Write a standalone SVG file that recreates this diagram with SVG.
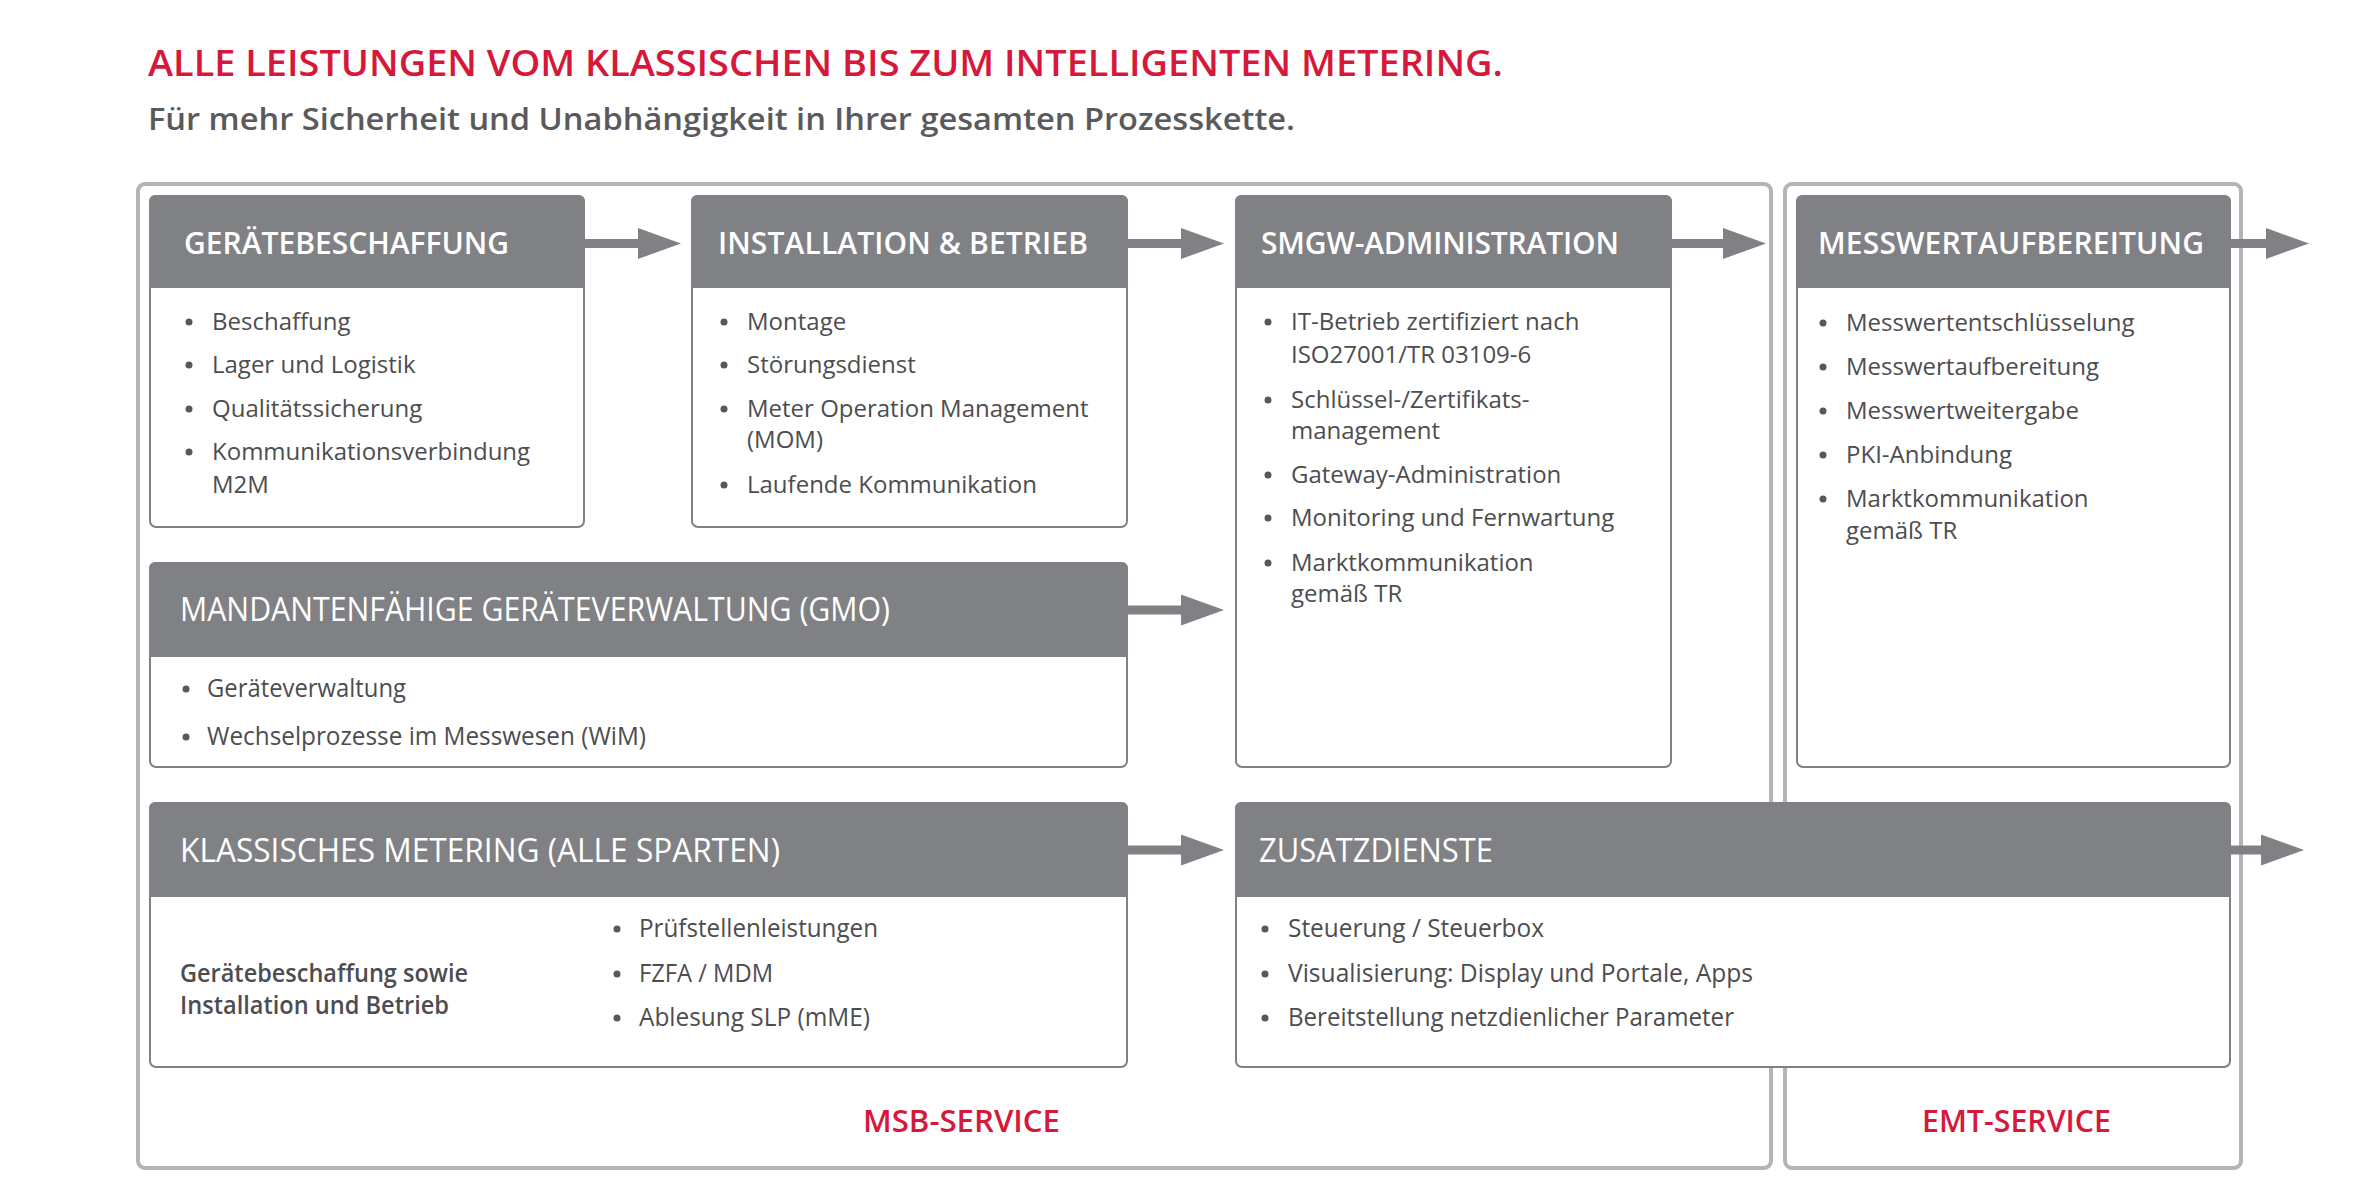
<svg xmlns="http://www.w3.org/2000/svg" width="2363" height="1181" viewBox="0 0 2363 1181">
<defs>
<style>
.frame{fill:none;stroke:#b4b4b6;stroke-width:4}
.body{fill:#fff;stroke:#808184;stroke-width:2}
.head{fill:#808184}
.ht{font-family:"Open Sans","Liberation Sans",sans-serif;font-weight:600;font-size:30px;fill:#fff}
.htc{font-family:"Open Sans","Liberation Sans",sans-serif;font-weight:500;font-size:33px;fill:#fff}
.t{font-family:"Open Sans","Liberation Sans",sans-serif;font-size:24px;fill:#4d4d4f}
.tc{font-family:"Open Sans","Liberation Sans",sans-serif;font-size:25px;fill:#4d4d4f}
.tb{font-family:"Open Sans","Liberation Sans",sans-serif;font-weight:600;font-size:25px;fill:#4d4d4f}
.dot{fill:#58585a}
.svc{font-family:"Open Sans","Liberation Sans",sans-serif;font-weight:600;font-size:30px;fill:#d6183b}
.conn{stroke:#808184;stroke-width:9;fill:none}
</style>
<marker id="ah" markerUnits="userSpaceOnUse" markerWidth="44" markerHeight="32" refX="0" refY="15.5" orient="auto">
<path d="M0,0 L43,15.5 L0,31 Z" fill="#808184"/>
</marker>
</defs>
<rect width="2363" height="1181" fill="#fff"/>

<g id="title">
<text x="148" y="76" font-family="Open Sans, Liberation Sans, sans-serif" font-weight="600" font-size="36" fill="#d6183b" textLength="1355" lengthAdjust="spacingAndGlyphs">ALLE LEISTUNGEN VOM KLASSISCHEN BIS ZUM INTELLIGENTEN METERING.</text>
<text x="148" y="130" font-family="Open Sans, Liberation Sans, sans-serif" font-weight="600" font-size="31" fill="#5a5a5c" textLength="1147" lengthAdjust="spacingAndGlyphs">Für mehr Sicherheit und Unabhängigkeit in Ihrer gesamten Prozesskette.</text>
</g>

<g id="msb-service">
<rect class="frame" x="138" y="184" width="1633" height="984" rx="7"/>
<text class="svc" x="863" y="1132" textLength="197" lengthAdjust="spacingAndGlyphs">MSB-SERVICE</text>
</g>
<g id="emt-service">
<rect class="frame" x="1785" y="184" width="456" height="984" rx="7"/>
<text class="svc" x="1922" y="1132" textLength="189" lengthAdjust="spacingAndGlyphs">EMT-SERVICE</text>
</g>

<g id="connectors">
<line class="conn" x1="584" y1="243.5" x2="638" y2="243.5" marker-end="url(#ah)"/>
<line class="conn" x1="1127" y1="243.5" x2="1181" y2="243.5" marker-end="url(#ah)"/>
<line class="conn" x1="1671" y1="243.5" x2="1723" y2="243.5" marker-end="url(#ah)"/>
<line class="conn" x1="2230" y1="243.5" x2="2266" y2="243.5" marker-end="url(#ah)"/>
<line class="conn" x1="1127" y1="610" x2="1181" y2="610" marker-end="url(#ah)"/>
<line class="conn" x1="1127" y1="850" x2="1181" y2="850" marker-end="url(#ah)"/>
<line class="conn" x1="2230" y1="850" x2="2261" y2="850" marker-end="url(#ah)"/>
</g>

<g id="geraetebeschaffung">
<rect class="body" x="150" y="196" width="434" height="331" rx="6"/>
<path class="head" d="M149,288 V202 Q149,195 156,195 H578 Q585,195 585,202 V288 Z"/>
<text class="ht" x="184" y="254" textLength="325" lengthAdjust="spacing">GERÄTEBESCHAFFUNG</text>
<circle class="dot" cx="189" cy="322" r="3.5"/><text class="t" x="212" y="330">Beschaffung</text>
<circle class="dot" cx="189" cy="365" r="3.5"/><text class="t" x="212" y="373">Lager und Logistik</text>
<circle class="dot" cx="189" cy="409" r="3.5"/><text class="t" x="212" y="417">Qualitätssicherung</text>
<circle class="dot" cx="189" cy="452" r="3.5"/><text class="t" x="212" y="460">Kommunikationsverbindung</text>
<text class="t" x="212" y="493">M2M</text>
</g>

<g id="installation-betrieb">
<rect class="body" x="692" y="196" width="435" height="331" rx="6"/>
<path class="head" d="M691,288 V202 Q691,195 698,195 H1121 Q1128,195 1128,202 V288 Z"/>
<text class="ht" x="718" y="254" textLength="370" lengthAdjust="spacing">INSTALLATION &amp; BETRIEB</text>
<circle class="dot" cx="724" cy="322" r="3.5"/><text class="t" x="747" y="330">Montage</text>
<circle class="dot" cx="724" cy="365" r="3.5"/><text class="t" x="747" y="373">Störungsdienst</text>
<circle class="dot" cx="724" cy="409" r="3.5"/><text class="t" x="747" y="417">Meter Operation Management</text>
<text class="t" x="747" y="448">(MOM)</text>
<circle class="dot" cx="724" cy="485" r="3.5"/><text class="t" x="747" y="493">Laufende Kommunikation</text>
</g>

<g id="smgw-administration">
<rect class="body" x="1236" y="196" width="435" height="571" rx="6"/>
<path class="head" d="M1235,288 V202 Q1235,195 1242,195 H1665 Q1672,195 1672,202 V288 Z"/>
<text class="ht" x="1261" y="254" textLength="358" lengthAdjust="spacing">SMGW-ADMINISTRATION</text>
<circle class="dot" cx="1268" cy="322" r="3.5"/><text class="t" x="1291" y="330">IT-Betrieb zertifiziert nach</text>
<text class="t" x="1291" y="363">ISO27001/TR 03109-6</text>
<circle class="dot" cx="1268" cy="400" r="3.5"/><text class="t" x="1291" y="408">Schlüssel-/Zertifikats-</text>
<text class="t" x="1291" y="439">management</text>
<circle class="dot" cx="1268" cy="475" r="3.5"/><text class="t" x="1291" y="483">Gateway-Administration</text>
<circle class="dot" cx="1268" cy="518" r="3.5"/><text class="t" x="1291" y="526">Monitoring und Fernwartung</text>
<circle class="dot" cx="1268" cy="563" r="3.5"/><text class="t" x="1291" y="571">Marktkommunikation</text>
<text class="t" x="1291" y="602">gemäß TR</text>
</g>

<g id="messwertaufbereitung">
<rect class="body" x="1797" y="196" width="433" height="571" rx="6"/>
<path class="head" d="M1796,288 V202 Q1796,195 1803,195 H2224 Q2231,195 2231,202 V288 Z"/>
<text class="ht" x="1818" y="254" textLength="386" lengthAdjust="spacing">MESSWERTAUFBEREITUNG</text>
<circle class="dot" cx="1823" cy="323" r="3.5"/><text class="t" x="1846" y="331">Messwertentschlüsselung</text>
<circle class="dot" cx="1823" cy="367" r="3.5"/><text class="t" x="1846" y="375">Messwertaufbereitung</text>
<circle class="dot" cx="1823" cy="411" r="3.5"/><text class="t" x="1846" y="419">Messwertweitergabe</text>
<circle class="dot" cx="1823" cy="455" r="3.5"/><text class="t" x="1846" y="463">PKI-Anbindung</text>
<circle class="dot" cx="1823" cy="499" r="3.5"/><text class="t" x="1846" y="507">Marktkommunikation</text>
<text class="t" x="1846" y="539">gemäß TR</text>
</g>

<g id="geraeteverwaltung-gmo">
<rect class="body" x="150" y="563" width="977" height="204" rx="6"/>
<path class="head" d="M149,657 V569 Q149,562 156,562 H1121 Q1128,562 1128,569 V657 Z"/>
<text class="htc" x="180" y="621" textLength="710" lengthAdjust="spacingAndGlyphs">MANDANTENFÄHIGE GERÄTEVERWALTUNG (GMO)</text>
<circle class="dot" cx="186" cy="689" r="3.5"/><text class="tc" x="207" y="697" textLength="199" lengthAdjust="spacingAndGlyphs">Geräteverwaltung</text>
<circle class="dot" cx="186" cy="737" r="3.5"/><text class="tc" x="207" y="745" textLength="439" lengthAdjust="spacingAndGlyphs">Wechselprozesse im Messwesen (WiM)</text>
</g>

<g id="klassisches-metering">
<rect class="body" x="150" y="803" width="977" height="264" rx="6"/>
<path class="head" d="M149,897 V809 Q149,802 156,802 H1121 Q1128,802 1128,809 V897 Z"/>
<text class="htc" x="180" y="862" textLength="600" lengthAdjust="spacingAndGlyphs">KLASSISCHES METERING (ALLE SPARTEN)</text>
<text class="tb" x="180" y="982" textLength="288" lengthAdjust="spacingAndGlyphs">Gerätebeschaffung sowie</text>
<text class="tb" x="180" y="1014" textLength="269" lengthAdjust="spacingAndGlyphs">Installation und Betrieb</text>
<circle class="dot" cx="617" cy="929" r="3.5"/><text class="tc" x="639" y="937" textLength="239" lengthAdjust="spacingAndGlyphs">Prüfstellenleistungen</text>
<circle class="dot" cx="617" cy="974" r="3.5"/><text class="tc" x="639" y="982" textLength="134" lengthAdjust="spacingAndGlyphs">FZFA / MDM</text>
<circle class="dot" cx="617" cy="1018" r="3.5"/><text class="tc" x="639" y="1026" textLength="231" lengthAdjust="spacingAndGlyphs">Ablesung SLP (mME)</text>
</g>

<g id="zusatzdienste">
<rect class="body" x="1236" y="803" width="994" height="264" rx="6"/>
<path class="head" d="M1235,897 V809 Q1235,802 1242,802 H2224 Q2231,802 2231,809 V897 Z"/>
<text class="htc" x="1259" y="862" textLength="234" lengthAdjust="spacingAndGlyphs">ZUSATZDIENSTE</text>
<circle class="dot" cx="1265" cy="929" r="3.5"/><text class="tc" x="1288" y="937" textLength="256" lengthAdjust="spacingAndGlyphs">Steuerung / Steuerbox</text>
<circle class="dot" cx="1265" cy="974" r="3.5"/><text class="tc" x="1288" y="982" textLength="465" lengthAdjust="spacingAndGlyphs">Visualisierung: Display und Portale, Apps</text>
<circle class="dot" cx="1265" cy="1018" r="3.5"/><text class="tc" x="1288" y="1026" textLength="446" lengthAdjust="spacingAndGlyphs">Bereitstellung netzdienlicher Parameter</text>
</g>
</svg>
